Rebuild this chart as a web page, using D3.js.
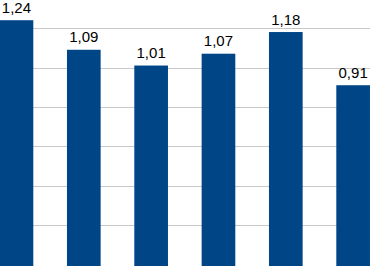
<!DOCTYPE html>
<html>
<head>
<meta charset="utf-8">
<script src="https://cdn.jsdelivr.net/npm/d3@7"></script>
<style>
  html, body { margin: 0; padding: 0; background: #ffffff; overflow: hidden; }
</style>
</head>
<body>
<div id="chart"></div>
<script>
const categories = ["1", "2", "3", "4", "5", "6"];
const values = [1.24, 1.09, 1.01, 1.07, 1.18, 0.91];
const gridTicks = [0.2, 0.4, 0.6, 0.8, 1.0, 1.2];

function drawChart() {
    const width = 370;
    const height = 266;

    const svg = d3.select("#chart")
        .append("svg")
        .attr("width", width)
        .attr("height", height);

    // plot area is cropped on every side, so ranges run past the edges
    const x = d3.scaleBand()
        .domain(categories)
        .range([-17.2, 386.8])
        .paddingInner(0.5)
        .paddingOuter(0.25);

    const y = d3.scaleLinear()
        .domain([0, 1.4])
        .range([264.5, -11.3]);

    svg.append("g")
        .selectAll("line")
        .data(gridTicks)
        .enter()
        .append("line")
        .attr("x1", 0)
        .attr("x2", width)
        .attr("y1", d => Math.round(y(d)) + 0.5)
        .attr("y2", d => Math.round(y(d)) + 0.5)
        .style("stroke", "#c8c8c8")
        .style("stroke-width", 1);

    const data = categories.map((c, i) => ({ cat: c, value: values[i] }));

    svg.append("g")
        .selectAll("rect")
        .data(data)
        .enter()
        .append("rect")
        .attr("x", d => x(d.cat))
        .attr("y", d => y(d.value))
        .attr("width", x.bandwidth())
        .attr("height", d => y(0) - y(d.value) + 2)
        .style("fill", "#004586");

    svg.append("g")
        .selectAll("text")
        .data(data)
        .enter()
        .append("text")
        .attr("x", d => x(d.cat) + x.bandwidth() / 2)
        .attr("y", d => y(d.value) - 7.5)
        .attr("text-anchor", "middle")
        .style("font-family", "'Liberation Sans', Arial, sans-serif")
        .style("font-size", "15px")
        .style("fill", "#000000")
        .text(d => d3.format(".2f")(d.value).replace(".", ","));
}

drawChart();
</script>
</body>
</html>
